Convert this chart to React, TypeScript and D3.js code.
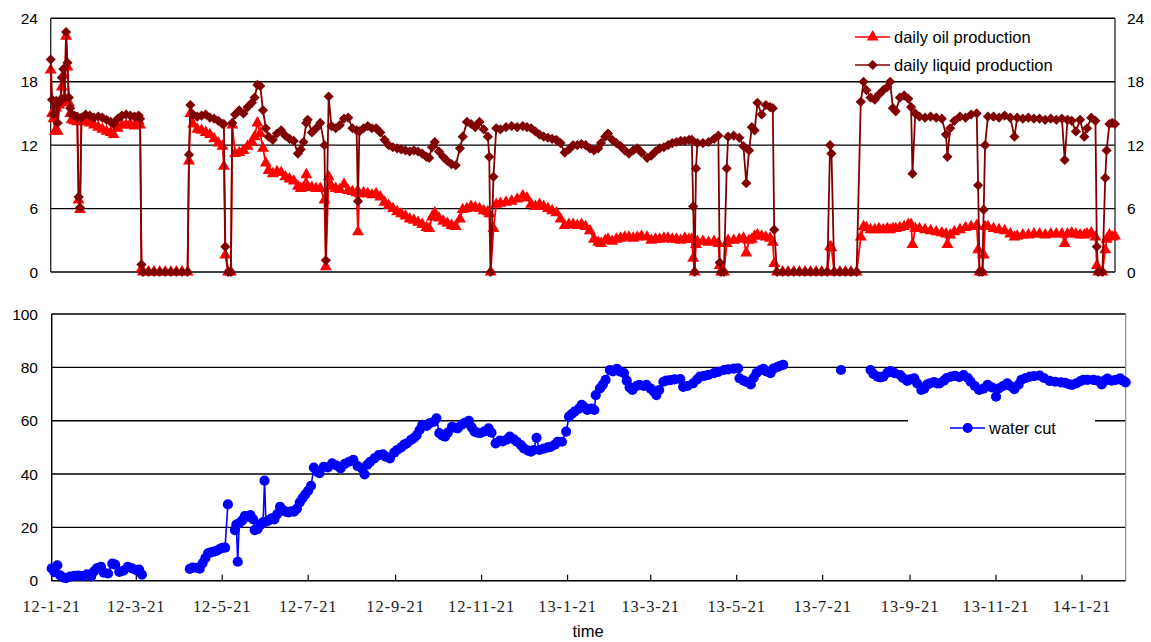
import React from "react";
import * as d3 from "d3";

// ---------------- data ----------------
const startDate = new Date(2012, 0, 21);
const spanDays = 762;

// day offsets from 2012-01-21 for the production series
const prodDays = [
  0, 1, 2, 3, 4, 5, 6, 7, 8, 9, 10, 11, 12, 13, 14, 15,
  17, 19, 20, 21, 22, 25, 28, 31, 34, 37, 40, 43, 45, 48, 51, 54, 57, 60, 63, 64,
  65, 66, 70, 74, 78, 82, 86, 90, 94, 98,
  99, 100, 102, 105, 108, 111, 114, 117, 120, 123, 124, 125, 127, 129,
  130, 132, 135, 138, 141, 144, 146, 148, 150, 152, 154, 156, 159, 162, 165, 168, 171, 174, 177, 179, 181, 183, 184, 187, 190, 193, 196, 197, 199,
  201, 204, 207, 210, 213, 216, 219, 220, 221, 224, 227, 230, 233, 236, 239, 242, 245, 248, 251, 254, 257, 260, 263, 266, 269, 271,
  273, 275, 278, 281, 284, 287, 290, 293, 295, 298, 301, 304, 307, 310, 313, 314, 315, 317, 319, 322, 326, 330, 334, 338, 341, 344, 347, 350, 353, 356, 359, 362, 365, 368,
  371, 374, 377, 380, 383, 386, 389, 392, 394, 397, 399, 402, 405, 408, 411, 414, 417, 420, 423, 427, 430, 433, 436, 439, 442, 445, 448, 451, 454, 457, 459,
  460, 461, 462, 463, 467, 471, 475, 478, 479, 480, 482, 484, 485, 489, 493, 496, 498, 500, 502, 504, 506, 509, 512, 515, 517, 518,
  520, 524, 528, 532, 536, 540, 544, 548, 552, 556, 558, 559, 561, 565, 569, 573, 577,
  580, 582, 584, 587, 590, 593, 596, 599, 601, 603, 605, 608, 611, 614, 616, 617, 619, 622, 626, 630, 634, 638, 641, 642, 644, 647, 651, 655, 659, 663,
  664, 665, 667, 668, 669, 671, 675, 679, 683, 687, 690, 692, 696, 700, 704, 708, 712, 716, 720, 724, 726, 728, 731, 734, 737, 740, 742, 745, 748, 749, 750, 753, 755, 756, 758, 760, 762,
];

const oilProduction = [
  19.1, 15.0, 14.5, 13.3, 15.5, 13.3, 15.8, 16.0, 17.5, 18.6, 16.2, 22.3, 19.4, 16.0, 15.0, 14.4,
  14.3, 14.2, 6.8, 5.9, 14.2, 14.3, 14.1, 13.9, 13.7, 13.5, 13.3, 13.2, 13.0, 13.6, 13.9, 13.9, 14.0, 13.8, 14.3, 13.9,
  0.3, 0, 0, 0, 0, 0, 0, 0, 0, 0,
  10.5, 15.0, 14.0, 13.5, 13.4, 13.2, 13.0, 12.6, 12.2, 11.9, 10.0, 1.6, 0, 0,
  13.9, 11.2, 11.3, 11.5, 11.9, 12.3, 12.8, 14.1, 13.1, 11.7, 10.3, 9.6, 9.3, 9.5, 9.4, 9.0, 8.8, 8.6, 8.1, 7.9, 8.0, 9.2, 8.1, 8.0, 7.9, 7.9, 6.8, 0.5, 9.0,
  8.1, 7.9, 7.8, 8.3, 7.7, 7.6, 7.5, 3.8, 7.4, 7.5, 7.4, 7.3, 7.4, 7.1, 6.6, 6.3, 6.0, 5.7, 5.5, 5.3, 5.0, 4.9, 4.7, 4.5, 4.2, 4.1,
  5.2, 5.6, 5.1, 4.8, 4.6, 4.4, 4.3, 5.0, 5.9, 6.0, 6.2, 6.1, 6.0, 5.8, 5.7, 5.5, 0, 4.1, 6.4, 6.5, 6.6, 6.7, 6.9, 7.2, 7.0, 6.4, 6.2, 6.4, 6.2, 6.0, 5.8, 5.6, 5.0, 4.4,
  4.5, 4.5, 4.4, 4.5, 4.3, 3.9, 3.1, 2.8, 2.7, 3.0, 3.1, 2.9, 3.1, 3.2, 3.3, 3.3, 3.2, 3.3, 3.4, 3.3, 3.0, 3.1, 3.1, 3.2, 3.2, 3.1, 3.1, 3.0, 3.2, 3.1, 3.1,
  1.3, 0, 2.6, 2.9, 2.9, 2.8, 2.9, 2.7, 0.6, 0, 0, 2.7, 3.0, 3.0, 3.1, 3.2, 1.8, 3.0, 3.1, 3.4, 3.5, 3.4, 3.3, 3.2, 2.8, 0.8,
  0, 0, 0, 0, 0, 0, 0, 0, 0, 0, 2.4, 2.3, 0, 0, 0, 0, 0,
  3.3, 4.3, 4.2, 4.0, 4.0, 4.1, 4.0, 4.1, 4.0, 4.1, 4.1, 4.2, 4.3, 4.5, 4.5, 2.6, 4.1, 4.1, 4.0, 3.9, 3.8, 3.7, 3.6, 2.6, 3.5, 3.8, 4.0, 4.2, 4.3, 4.4,
  2.1, 0, 0, 1.6, 4.3, 4.3, 4.1, 4.0, 3.9, 3.6, 3.3, 3.4, 3.5, 3.5, 3.6, 3.6, 3.5, 3.6, 3.6, 3.6, 2.7, 3.6, 3.7, 3.6, 3.5, 3.5, 3.6, 3.7, 3.3, 0.6, 0, 0, 2.1, 3.1, 3.5, 3.3, 3.4,
];

const liquidProduction = [
  20.1, 16.3, 14.9, 16.0, 16.2, 14.1, 16.0, 16.3, 18.4, 19.2, 16.5, 22.7, 19.8, 16.5, 15.5, 14.9,
  14.8, 14.7, 7.1, 6.1, 14.6, 14.9, 14.8, 14.6, 14.7, 14.6, 14.4, 14.2, 14.0, 14.5, 14.8, 14.9, 14.8, 14.7, 14.8, 14.5,
  0.7, 0, 0, 0, 0, 0, 0, 0, 0, 0,
  11.1, 15.8, 14.9, 14.7, 14.8, 14.9, 14.6, 14.5, 14.3, 14.0, 14.0, 2.4, 0, 0,
  14.1, 14.9, 15.3, 15.0, 15.6, 16.0, 16.5, 17.7, 17.6, 15.3, 13.6, 12.8, 12.5, 13.1, 13.4, 12.9, 12.6, 12.4, 11.2, 11.6, 12.3, 14.1, 14.4, 13.2, 13.6, 14.1, 12.0, 1.1, 16.6,
  13.8, 13.6, 13.9, 14.5, 14.6, 13.6, 13.4, 6.7, 13.3, 13.6, 13.8, 13.6, 13.6, 13.2, 12.5, 12.0, 11.8, 11.7, 11.6, 11.5, 11.4, 11.5, 11.4, 11.2, 10.9, 10.8,
  11.8, 12.3, 11.4, 10.9, 10.5, 10.2, 10.1, 11.7, 12.8, 14.2, 14.0, 13.7, 14.2, 13.5, 12.8, 10.9, 0, 9.0, 13.6, 13.5, 13.7, 13.8, 13.7, 13.8, 13.7, 13.6, 13.3, 13.0, 12.8, 12.7, 12.6, 12.5, 12.2, 11.3,
  11.6, 12.0, 12.0, 12.1, 12.0, 11.7, 11.5, 11.7, 12.2, 12.8, 13.1, 12.5, 12.2, 11.9, 11.5, 11.2, 11.5, 11.7, 11.3, 10.8, 11.0, 11.4, 11.7, 11.8, 12.0, 12.2, 12.3, 12.4, 12.4, 12.5, 12.5,
  6.2, 0, 9.8, 12.2, 12.2, 12.3, 12.6, 12.9, 0.9, 0, 0, 9.8, 12.8, 12.9, 12.7, 11.9, 8.4, 11.5, 13.7, 13.4, 16.0, 14.9, 15.8, 15.6, 15.5, 4.0,
  0, 0, 0, 0, 0, 0, 0, 0, 0, 0, 12.0, 11.2, 0, 0, 0, 0, 0,
  16.1, 18.0, 17.2, 16.5, 16.3, 16.8, 17.2, 17.5, 18.0, 15.5, 15.2, 16.5, 16.7, 16.4, 15.6, 9.3, 15.0, 14.7, 14.6, 14.7, 14.6, 14.5, 13.0, 10.9, 13.6, 14.3, 14.7, 14.6, 14.9, 15.0,
  8.2, 0, 0, 5.9, 12.0, 14.7, 14.7, 14.6, 14.8, 14.6, 12.8, 14.6, 14.5, 14.6, 14.5, 14.5, 14.4, 14.5, 14.4, 14.5, 10.6, 14.4, 14.3, 13.3, 14.4, 12.8, 13.6, 14.6, 14.3, 2.4, 0, 0, 8.9, 11.5, 14.0, 14.1, 14.0,
];

// day offsets for the water cut series (null value = no reading)
const wcDays = [
  0, 2, 4, 6, 8, 10, 13, 16, 19, 22, 25, 28, 30, 32, 35, 37, 40, 43, 45, 48, 51, 54, 57, 60, 62, 64, 80,
  98, 100, 103, 105, 107, 109, 111, 113, 115, 117, 119, 121, 123, 125, 127,
  130, 131, 132, 133, 135, 137, 139, 141, 143, 144,
  146, 148, 150, 151, 152, 154, 156, 158, 160, 162,
  164, 166, 168, 170, 172, 174, 176, 178, 180, 182,
  184, 186, 188, 190, 193, 196, 199, 202, 205, 208,
  211, 214, 217, 220, 222, 224, 226, 229, 232, 235,
  237, 240, 243, 245, 248, 250, 252, 255, 257, 259,
  261, 263, 266, 268, 271, 273, 275, 277, 279, 281,
  284, 286, 288, 291, 293, 296, 298, 300, 302, 304,
  307, 310, 312, 315, 318, 320, 323, 325, 328, 330,
  333, 335, 338, 340, 342, 344, 346, 349, 352, 354,
  357, 359, 362, 365, 367, 369, 371, 374, 376, 378,
  380, 383, 385, 386, 389, 391, 393, 396, 398, 401,
  403, 406, 408, 410, 412, 415, 417, 420, 422, 425,
  427, 429, 431, 434, 436, 439, 442, 446, 448, 451,
  455, 458, 460, 463, 466, 470, 473, 477, 480, 484,
  487, 488, 491, 493, 496, 498, 500, 503, 505, 507,
  510, 512, 515, 517, 519, 540,
  560, 570,
  581, 583, 586, 588, 590, 593, 595, 598, 602, 604,
  607, 609, 612, 614, 617, 619, 621, 623, 626, 628,
  630, 633, 635, 638, 641, 644, 647, 650, 652, 655,
  658, 661, 664, 667, 670, 672, 675, 678, 680, 683,
  686, 688, 691, 694, 697, 701, 704, 708, 712, 716,
  719, 722, 724, 727, 730, 732, 735, 739, 742, 745,
  747, 749, 752, 755, 758, 760, 762,
];

const waterCut: (number | null)[] = [
  4.6, 3.2, 5.8, 2.0, 1.2, 1.0, 1.5, 1.8, 1.9, 1.7, 2.4, 1.6, 3.5, 4.6, 5.2, 3.0, 2.7, 6.4, 6.0, 3.3, 3.8, 5.2, 4.6, 4.0, 4.2, 2.3, null,
  4.4, 4.9, 4.8, 4.5, 6.5, 8.5, 10.3, 10.6, 10.9, 11.2, 11.8, 12.3, 12.4, 28.6, null,
  19.0, 21.0, 7.1, 21.5, 22.5, 24.2, 24.0, 24.6, 23.0, 19.0,
  19.3, 20.9, 22.0, 37.5, 22.1, 22.6, 23.4, 23.0, 25.0, 27.7,
  26.5, 25.9, 25.6, 26.0, 25.9, 27.0, 29.4, 31.0, 32.4, 33.8,
  35.6, 42.4, 41.0, 40.3, 42.7, 42.5, 44.0, 43.2, 42.1, 43.8,
  44.6, 45.3, 43.0, 42.1, 39.9, 43.5, 44.6, 45.9, 47.1, 47.4,
  46.5, 45.9, 48.0, 49.0, 50.0, 51.0, 51.5, 52.8, 53.5, 54.6,
  56.5, 58.4, 58.0, 59.0, 59.5, 60.9, 55.3, 54.5, 54.0, 55.5,
  57.7, 57.4, 57.1, 58.5, 59.2, 59.9, 57.5, 55.9, 55.5, 55.3,
  56.0, 57.1, 55.5, 51.5, 52.5, 52.2, 53.0, 54.0, 53.0, 52.1,
  50.8, 49.6, 48.8, 48.4, 49.0, 53.6, 49.0, 49.5, 50.0, 50.2,
  51.0, 52.1, 52.1, 55.9, 61.5, 62.5, 63.4, 64.5, 65.9, 65.0,
  64.0, 64.5, 64.0, 69.6, 72.1, 73.5, 75.3, 79.0, 78.5, 79.4,
  78.5, 77.8, 75.0, 72.5, 71.5, 73.0, 73.4, 73.0, 73.4, 72.0,
  71.0, 69.6, 71.5, 74.6, 75.0, 75.2, 75.5, 75.6, 72.7, 73.0,
  74.0, 75.5, 76.5, 76.8, 77.2, 77.8, 78.3, 79.0, 79.2, 79.5,
  79.6, 75.9, 75.0, 74.5, 73.6, 76.0, 77.8, 79.0, 79.4, 78.5,
  77.8, 79.5, 80.2, 80.6, 80.9, null,
  79.0, null,
  79.0, 77.5, 76.5, 76.2, 76.5, 78.0, 78.6, 77.8, 77.1, 76.0,
  74.9, 75.5, 75.9, 74.0, 71.5, 72.0, 73.5, 74.0, 74.5, 74.0,
  74.0, 75.0, 76.0, 76.5, 76.8, 76.3, 77.1, 76.0, 74.6, 73.0,
  71.5, 72.0, 73.4, 72.5, 69.0, 72.1, 73.0, 74.0, 73.0, 71.8,
  73.5, 75.3, 76.0, 76.5, 76.7, 76.9, 76.0, 74.9, 74.6, 74.4,
  74.2, 73.6, 73.4, 74.0, 74.8, 75.3, 75.3, 75.3, 75.0, 73.6,
  75.0, 75.8, 75.0, 75.3, 75.9, 75.0, 74.4,
];

const prodTicks = [0, 6, 12, 18, 24];
const wcTicks = [0, 20, 40, 60, 80, 100];
const dateTickLabels = [
  "12-1-21", "12-3-21", "12-5-21", "12-7-21", "12-9-21", "12-11-21", "13-1-21",
  "13-3-21", "13-5-21", "13-7-21", "13-9-21", "13-11-21", "14-1-21",
];

// ---------------- layout ----------------
const W = 1151;
const H = 642;
const topBox = { left: 50.7, right: 1115, top: 18.3, bottom: 272 };
const botBox = { left: 51.7, right: 1125.7, top: 314, bottom: 580.7 };

const OIL = "#ff0000";
const LIQ = "#800000";
const WC = "#0000ff";
const SANS = "'Liberation Sans', Arial, sans-serif";
const SERIF = "'Liberation Serif', 'Times New Roman', serif";

export default function App() {
  const dayDate = (d: number) => d3.timeDay.offset(startDate, d);
  const endDate = dayDate(spanDays);
  const xTop = d3.scaleTime().domain([startDate, endDate]).range([topBox.left, topBox.right]);
  const yTop = d3.scaleLinear().domain([0, 24]).range([topBox.bottom, topBox.top]);
  const xBot = d3.scaleTime().domain([startDate, endDate]).range([botBox.left, botBox.right]);
  const yBot = d3.scaleLinear().domain([0, 100]).range([botBox.bottom, botBox.top]);
  const parseTick = d3.timeParse("%y-%m-%d");

  const oilPts: [number, number][] = prodDays.map((d, i) => [d, oilProduction[i]]);
  const liqPts: [number, number][] = prodDays.map((d, i) => [d, liquidProduction[i]]);
  const wcPts: [number, number | null][] = wcDays.map((d, i) => [d, waterCut[i]]);

  const topLine = d3
    .line<[number, number]>()
    .x((p) => xTop(dayDate(p[0])))
    .y((p) => yTop(p[1]));
  const wcLine = d3
    .line<[number, number | null]>()
    .defined((p) => p[1] != null)
    .x((p) => xBot(dayDate(p[0])))
    .y((p) => yBot(p[1] as number));

  const triPath = d3.symbol(d3.symbolTriangle, 62)() as string;
  const diaPath = d3.symbol(d3.symbolSquare, 52)() as string;

  const tickDates = dateTickLabels.map((l) => ({ label: l, date: parseTick(l) as Date }));

  return (
    <svg
      width={W}
      height={H}
      style={{ position: "absolute", left: 0, top: 0, background: "#fff" }}
    >
      <rect x={0} y={0} width={W} height={H} fill="#fff" />

      {/* ---------- top panel ---------- */}
      {prodTicks.map((t) => (
        <line
          key={"tg" + t}
          x1={topBox.left}
          x2={topBox.right}
          y1={yTop(t)}
          y2={yTop(t)}
          stroke="#000"
          strokeWidth={t === 0 ? 1.6 : 1.4}
        />
      ))}
      <line x1={topBox.left} x2={topBox.left} y1={topBox.top} y2={topBox.bottom} stroke="#222" strokeWidth={1.3} />
      <line x1={topBox.right} x2={topBox.right} y1={topBox.top} y2={topBox.bottom} stroke="#222" strokeWidth={1.3} />
      {prodTicks.map((t) => (
        <g key={"tl" + t} fontFamily={SANS} fontSize={15.5} fill="#000">
          <text x={38} y={yTop(t)} dy="0.36em" textAnchor="end">
            {t}
          </text>
          <text x={1127} y={yTop(t)} dy="0.36em" textAnchor="start">
            {t}
          </text>
        </g>
      ))}

      <path d={topLine(oilPts) as string} fill="none" stroke={OIL} strokeWidth={1.8} />
      {oilPts.map((p, i) => (
        <path
          key={"o" + i}
          d={triPath}
          transform={`translate(${xTop(dayDate(p[0]))},${yTop(p[1])})`}
          fill={OIL}
        />
      ))}
      <path d={topLine(liqPts) as string} fill="none" stroke={LIQ} strokeWidth={1.8} />
      {liqPts.map((p, i) => (
        <path
          key={"l" + i}
          d={diaPath}
          transform={`translate(${xTop(dayDate(p[0]))},${yTop(p[1])}) rotate(45)`}
          fill={LIQ}
        />
      ))}

      {/* top legend */}
      <g fontFamily={SANS} fontSize={16.5} fill="#000">
        <line x1={855} x2={890} y1={37} y2={37} stroke={OIL} strokeWidth={1.6} />
        <path d={triPath} transform="translate(872.7,37)" fill={OIL} />
        <text x={894} y={37} dy="0.36em">
          daily oil production
        </text>
        <line x1={855} x2={890} y1={65} y2={65} stroke={LIQ} strokeWidth={1.6} />
        <path d={diaPath} transform="translate(872.7,65) rotate(45)" fill={LIQ} />
        <text x={894} y={65} dy="0.36em">
          daily liquid production
        </text>
      </g>

      {/* ---------- bottom panel ---------- */}
      {wcTicks.map((t) => (
        <line
          key={"bg" + t}
          x1={botBox.left}
          x2={botBox.right}
          y1={yBot(t)}
          y2={yBot(t)}
          stroke="#000"
          strokeWidth={1.4}
        />
      ))}
      <line x1={botBox.left} x2={botBox.left} y1={botBox.top} y2={botBox.bottom} stroke="#000" strokeWidth={1.4} />
      <line x1={botBox.right} x2={botBox.right} y1={botBox.top} y2={botBox.bottom} stroke="#888" strokeWidth={1.2} />
      {wcTicks.map((t) => (
        <text
          key={"bl" + t}
          x={38}
          y={yBot(t)}
          dy="0.36em"
          textAnchor="end"
          fontFamily={SANS}
          fontSize={15.5}
          fill="#000"
        >
          {t}
        </text>
      ))}
      {tickDates.map((t) => (
        <g key={"xt" + t.label}>
          <line
            x1={xBot(t.date)}
            x2={xBot(t.date)}
            y1={botBox.bottom}
            y2={botBox.bottom - 6}
            stroke="#000"
            strokeWidth={1.2}
          />
          <text
            x={xBot(t.date)}
            y={606}
            dy="0.36em"
            textAnchor="middle"
            fontFamily={SERIF}
            fontSize={16.5}
            letterSpacing={0.9}
            fill="#222"
          >
            {t.label}
          </text>
        </g>
      ))}
      <text x={588} y={631} dy="0.36em" textAnchor="middle" fontFamily={SANS} fontSize={16.5} fill="#000">
        time
      </text>

      {/* water cut legend background */}
      <rect x={908} y={408} width={187} height={40} fill="#fff" />

      <path d={wcLine(wcPts) as string} fill="none" stroke={WC} strokeWidth={1.6} />
      {wcPts
        .filter((p) => p[1] != null)
        .map((p, i) => (
          <circle key={"w" + i} cx={xBot(dayDate(p[0]))} cy={yBot(p[1] as number)} r={5.1} fill={WC} />
        ))}

      <g fontFamily={SANS} fontSize={16.5} fill="#000">
        <line x1={950} x2={985} y1={428} y2={428} stroke={WC} strokeWidth={1.6} />
        <circle cx={967.7} cy={428} r={5} fill={WC} />
        <text x={989} y={428} dy="0.36em">
          water cut
        </text>
      </g>
    </svg>
  );
}
